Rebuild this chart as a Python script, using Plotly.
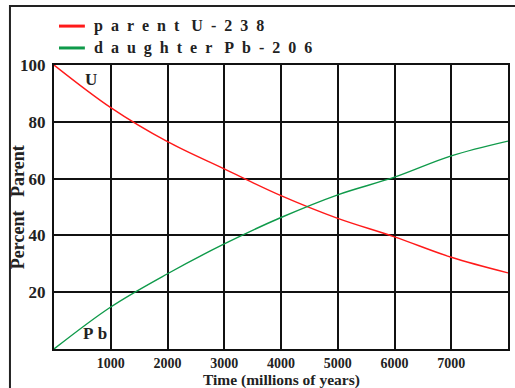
import plotly.graph_objects as go

time_myr = [0, 1000, 2000, 3000, 4000, 5000, 6000, 7000, 8000]
parent_u238 = [100, 85.0, 73.0, 63.4, 54.0, 46.0, 39.5, 32.3, 26.8]
daughter_pb206 = [0, 14.8, 26.5, 37.0, 46.3, 54.3, 60.5, 68.0, 73.2]
x_ticks = [1000, 2000, 3000, 4000, 5000, 6000, 7000]
y_ticks = [20, 40, 60, 80, 100]
series_names = ["parent U-238", "daughter Pb-206"]
series_colors = ["#ff1a1a", "#0f9a4a"]

serif = "Liberation Serif"
ink = "#222"


def spaced(s):
    out = []
    for word in s.split(" "):
        out.append("\u00a0\u00a0".join(word))
    return "\u00a0\u00a0\u00a0".join(out)


fig = go.Figure()
for yv, nm, col in [(parent_u238, series_names[0], series_colors[0]),
                    (daughter_pb206, series_names[1], series_colors[1])]:
    fig.add_trace(go.Scatter(x=time_myr, y=yv, mode="lines", name=nm,
                             line=dict(color=col, width=1.4, shape="spline"),
                             showlegend=False))

fig.update_layout(
    width=515, height=388,
    margin=dict(l=54, r=7, t=65, b=39),
    paper_bgcolor="white", plot_bgcolor="white",
    font=dict(family=serif, color=ink, size=16),
    xaxis=dict(range=[0, 8000], tickvals=x_ticks, ticks="", automargin=False,
               showgrid=True, gridcolor="#111", gridwidth=2,
               showline=True, linecolor="#111", linewidth=2, mirror=True,
               zeroline=False, ticklabelstandoff=0,
               tickfont=dict(family=serif, size=14, color=ink, weight="bold")),
    yaxis=dict(range=[0, 100], tickvals=y_ticks, ticks="", automargin=False,
               showgrid=True, gridcolor="#111", gridwidth=2,
               showline=True, linecolor="#111", linewidth=2, mirror=True,
               zeroline=False, ticklabelstandoff=3,
               tickfont=dict(family=serif, size=17, color=ink, weight="bold")),
)

# legend drawn as short sample lines plus labels
for i, (nm, col) in enumerate(zip(series_names, series_colors)):
    yp = 1.137 - i * 0.077
    fig.add_shape(type="line", xref="paper", yref="paper",
                  x0=0.011, x1=0.068, y0=yp, y1=yp,
                  line=dict(color=col, width=3))
    fig.add_annotation(text=spaced(nm), xref="paper", yref="paper",
                       x=0.083, y=yp, xanchor="left", yanchor="middle",
                       showarrow=False,
                       font=dict(family=serif, size=16, color=ink, weight="bold"))

fig.add_annotation(text="Time (millions of years)", xref="paper", yref="paper",
                   x=0.5, y=-0.108, xanchor="center", yanchor="middle", showarrow=False,
                   font=dict(family=serif, size=15.5, color=ink, weight="bold"))
fig.add_annotation(text="Percent\u00a0\u00a0\u00a0Parent", textangle=-90, xref="paper", yref="paper",
                   x=-0.079, y=0.5, xanchor="center", yanchor="middle", showarrow=False,
                   font=dict(family=serif, size=18, color=ink, weight="bold"))
fig.add_annotation(text="U", x=650, y=95, showarrow=False,
                   font=dict(family=serif, size=17, color=ink, weight="bold"))
fig.add_annotation(text="P\u00a0b", x=720, y=5.5, showarrow=False,
                   font=dict(family=serif, size=17, color=ink, weight="bold"))

fig.add_shape(type="rect", xref="paper", yref="paper",
              x0=-0.097, x1=1.05, y0=-0.3, y1=1.208,
              line=dict(color=ink, width=2), layer="below")

fig.write_html("out.html", config={"displayModeBar": False},
               post_script="document.body.style.margin='0';document.body.style.overflow='hidden';")
